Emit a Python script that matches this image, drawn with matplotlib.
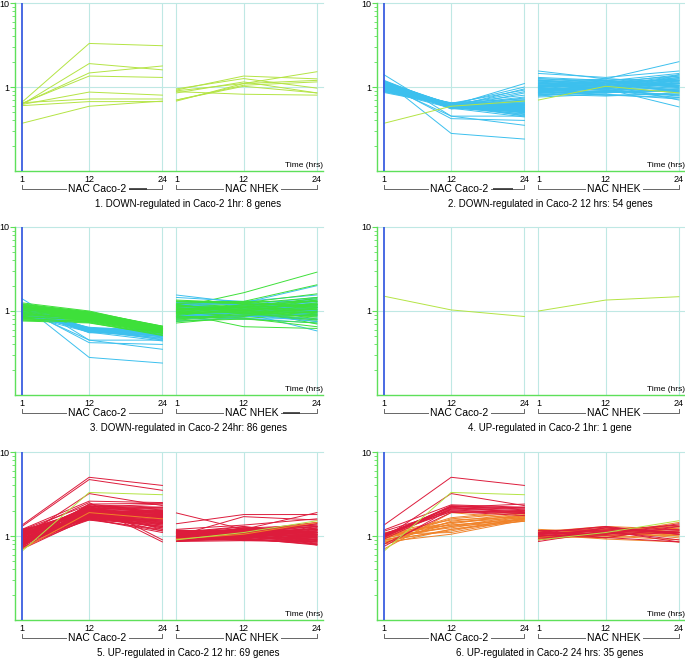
import numpy as np
import matplotlib
matplotlib.use("Agg")
import matplotlib.pyplot as plt
import matplotlib.transforms as mtransforms
from matplotlib.ticker import FixedLocator, NullFormatter

plt.rcParams['font.family'] = ['Liberation Sans', 'DejaVu Sans']

# hours sampled in each cell line
hours = [1, 12, 24]
groups = ["NAC Caco-2", "NAC NHEK"]
nhek_offset = 25.3   # horizontal offset of the NHEK block

# expression ratios: Caco-2 1h,12h,24h | NHEK 1h,12h,24h
g1 = [  # cluster 1 (8 genes)
    [0.66, 3.30, 3.10, 0.90, 1.10, 1.52],
    [0.62, 1.90, 1.60, 0.92, 1.35, 1.25],
    [0.63, 1.47, 1.78, 0.68, 1.10, 1.20],
    [0.64, 1.35, 1.30, 0.88, 0.82, 0.80],
    [0.62, 0.87, 0.80, 0.95, 1.26, 0.97],
    [0.65, 0.72, 0.72, 0.70, 1.05, 1.15],
    [0.60, 0.67, 0.67, 0.85, 1.15, 0.85],
    [0.37, 0.59, 0.68, 0.70, 1.02, 0.85],
]

g2 = [  # cluster 2 (53 own genes)
    [1.40, 0.45, 0.35, 1.55, 1.25, 2.00], [1.20, 0.28, 0.24, 1.45, 1.30, 1.55],
    [1.10, 0.42, 0.40, 1.20, 1.10, 1.40], [1.05, 0.45, 0.45, 0.95, 0.95, 0.58],
    [0.90, 0.60, 1.10, 1.00, 1.05, 1.35], [1.15, 0.62, 1.00, 0.85, 0.90, 1.20],
    [1.00, 0.58, 0.95, 1.10, 1.20, 1.00], [0.95, 0.64, 0.92, 0.90, 1.00, 0.85],
    [1.08, 0.60, 0.88, 1.25, 1.15, 1.10], [1.12, 0.56, 0.85, 0.80, 0.85, 0.95],
    [0.88, 0.63, 0.80, 1.05, 0.95, 1.25], [1.02, 0.61, 0.76, 0.95, 1.10, 0.90],
    [1.18, 0.59, 0.74, 1.15, 1.00, 1.30], [0.92, 0.65, 0.72, 0.88, 0.80, 0.75],
    [1.06, 0.57, 0.70, 1.00, 1.25, 1.15], [0.98, 0.62, 0.70, 0.78, 0.90, 0.80],
    [1.10, 0.60, 0.68, 1.30, 1.20, 1.05], [0.94, 0.58, 0.67, 0.92, 0.85, 1.40],
    [1.04, 0.64, 0.66, 1.08, 1.05, 0.70], [1.14, 0.55, 0.65, 0.84, 1.15, 1.20],
    [0.86, 0.60, 0.64, 1.12, 0.95, 0.95], [1.00, 0.63, 0.63, 0.96, 1.00, 1.10],
    [1.08, 0.59, 0.62, 0.82, 0.78, 0.85], [0.96, 0.61, 0.62, 1.20, 1.10, 1.25],
    [1.12, 0.57, 0.61, 0.98, 0.92, 0.78], [1.02, 0.62, 0.60, 0.86, 1.00, 1.00],
    [0.90, 0.56, 0.60, 1.04, 1.15, 1.35], [1.16, 0.60, 0.59, 0.94, 0.88, 0.92],
    [0.98, 0.64, 0.58, 1.15, 1.25, 1.15], [1.06, 0.58, 0.58, 0.76, 0.82, 0.72],
    [0.94, 0.62, 0.57, 1.02, 1.05, 1.05], [1.10, 0.55, 0.56, 0.90, 0.95, 1.20],
    [1.00, 0.60, 0.56, 1.10, 1.10, 0.88], [1.20, 0.59, 0.55, 0.84, 0.90, 1.10],
    [0.92, 0.63, 0.54, 0.98, 1.20, 0.98], [1.04, 0.57, 0.54, 1.22, 1.05, 1.30],
    [1.08, 0.61, 0.53, 0.88, 0.80, 0.82], [0.96, 0.58, 0.52, 1.06, 0.98, 1.15],
    [1.14, 0.60, 0.52, 0.80, 0.86, 0.90], [1.02, 0.56, 0.51, 1.00, 1.10, 1.25],
    [0.88, 0.62, 0.50, 1.14, 1.00, 1.05], [1.06, 0.59, 0.50, 0.94, 0.92, 0.80],
    [0.98, 0.61, 0.49, 0.86, 1.15, 1.00], [1.12, 0.57, 0.48, 1.18, 1.05, 1.10],
    [0.94, 0.60, 0.47, 0.92, 0.85, 0.95], [1.00, 0.58, 0.46, 1.04, 1.00, 1.20],
    [1.16, 0.62, 0.45, 0.82, 0.90, 0.75], [1.04, 0.56, 0.44, 1.08, 1.12, 1.05],
    [0.90, 0.60, 0.52, 0.96, 0.95, 0.88], [1.10, 0.63, 0.55, 1.26, 1.18, 1.45],
    [1.02, 0.59, 0.57, 0.88, 0.96, 1.12], [0.96, 0.57, 0.50, 1.00, 1.08, 0.92],
    [1.08, 0.61, 0.53, 0.90, 0.88, 1.02],
]

g3 = [  # cluster 3 (53 own genes)
    [1.00, 0.95, 0.62, 1.10, 1.65, 2.90], [0.90, 0.88, 0.60, 1.30, 1.30, 2.05],
    [1.10, 0.92, 0.64, 1.20, 1.25, 1.60], [0.80, 0.85, 0.58, 0.95, 0.65, 0.62],
    [1.20, 0.98, 0.66, 0.85, 1.00, 1.45], [0.95, 0.82, 0.55, 1.05, 1.15, 1.20],
    [1.05, 0.90, 0.63, 0.75, 0.85, 0.95], [0.85, 0.78, 0.56, 1.25, 1.10, 1.30],
    [1.15, 0.94, 0.65, 0.90, 0.95, 0.80], [0.92, 0.80, 0.57, 1.15, 1.20, 1.10],
    [1.02, 0.87, 0.61, 0.80, 0.90, 1.25], [0.78, 0.75, 0.54, 1.00, 1.05, 0.70],
    [1.08, 0.93, 0.62, 1.35, 1.25, 1.15], [0.88, 0.83, 0.59, 0.88, 0.80, 1.00],
    [1.25, 1.00, 0.64, 1.02, 1.15, 1.40], [0.98, 0.86, 0.60, 0.72, 0.85, 0.85],
    [1.12, 0.89, 0.58, 1.18, 1.00, 1.20], [0.82, 0.77, 0.55, 0.96, 1.10, 0.98],
    [1.04, 0.91, 0.63, 1.08, 0.92, 1.10], [0.94, 0.84, 0.57, 0.84, 0.95, 0.75],
    [1.18, 0.96, 0.66, 1.22, 1.30, 1.30], [0.86, 0.79, 0.56, 0.92, 1.05, 1.05],
    [1.00, 0.88, 0.61, 1.12, 1.15, 0.90], [0.76, 0.72, 0.52, 0.78, 0.88, 1.15],
    [1.06, 0.90, 0.62, 1.00, 0.98, 1.35], [0.96, 0.85, 0.59, 1.28, 1.20, 0.95],
    [1.14, 0.92, 0.60, 0.86, 0.82, 0.65], [0.84, 0.80, 0.57, 1.04, 1.10, 1.20],
    [1.02, 0.86, 0.58, 0.94, 1.25, 1.10], [0.90, 0.82, 0.54, 1.16, 1.05, 1.00],
    [1.22, 0.97, 0.65, 0.82, 0.90, 0.88], [0.80, 0.76, 0.53, 1.06, 1.00, 1.25],
    [1.08, 0.89, 0.63, 0.98, 1.12, 1.15], [0.92, 0.81, 0.56, 1.20, 0.95, 0.78],
    [1.10, 0.94, 0.64, 0.88, 1.08, 1.05], [0.98, 0.83, 0.58, 1.02, 1.18, 1.30],
    [0.86, 0.78, 0.55, 1.32, 1.22, 1.45], [1.16, 0.95, 0.62, 0.76, 0.80, 0.72],
    [1.04, 0.87, 0.60, 1.10, 0.92, 0.98], [0.82, 0.74, 0.52, 0.92, 1.02, 1.12],
    [1.12, 0.91, 0.61, 1.00, 1.15, 0.92], [0.94, 0.80, 0.57, 1.14, 1.05, 1.20],
    [1.00, 0.86, 0.59, 0.84, 0.88, 1.00], [0.88, 0.84, 0.56, 1.24, 1.28, 1.10],
    [1.20, 0.93, 0.63, 0.96, 0.98, 0.85], [0.96, 0.79, 0.54, 1.06, 1.10, 1.35],
    [1.06, 0.88, 0.60, 0.80, 0.94, 1.05], [0.78, 0.73, 0.51, 1.18, 1.00, 0.90],
    [1.14, 0.90, 0.62, 0.90, 1.20, 1.18], [0.90, 0.85, 0.58, 1.08, 1.02, 0.95],
    [1.02, 0.92, 0.65, 0.98, 0.86, 1.22], [0.84, 0.81, 0.55, 1.12, 1.12, 0.80],
    [1.10, 0.96, 0.61, 0.94, 0.96, 1.08],
]

g4 = [[1.50, 1.03, 0.86, 1.00, 1.35, 1.48]]

g5 = [  # cluster 5 (67 own genes)
    [1.35, 5.00, 4.00, 1.10, 1.30, 1.05], [1.30, 4.70, 3.50, 1.88, 1.20, 1.90],
    [0.95, 3.20, 2.30, 1.05, 1.15, 0.85], [1.20, 2.60, 2.50, 1.40, 1.80, 1.80],
    [0.80, 2.40, 2.45, 1.00, 1.70, 1.55], [1.10, 2.50, 0.90, 0.95, 1.00, 0.90],
    [0.85, 2.30, 0.85, 1.10, 1.10, 1.20], [1.00, 2.20, 2.40, 0.90, 1.25, 1.10],
    [0.75, 2.10, 2.20, 1.15, 0.95, 1.30], [1.05, 2.00, 1.20, 0.88, 1.05, 0.80],
    [0.90, 1.90, 2.00, 1.20, 1.35, 1.60], [1.15, 1.80, 1.15, 1.00, 0.90, 1.00],
    [0.78, 2.40, 1.90, 1.05, 1.15, 0.95], [0.95, 1.70, 1.80, 0.95, 1.00, 1.15],
    [1.08, 1.60, 1.30, 1.12, 1.20, 0.78], [0.82, 1.55, 1.40, 0.92, 0.92, 1.25],
    [1.02, 2.25, 2.10, 1.08, 1.28, 1.05], [0.88, 2.00, 1.70, 0.86, 0.88, 0.92],
    [1.12, 1.85, 1.60, 1.18, 1.10, 1.40], [0.72, 1.75, 1.50, 0.98, 1.05, 1.10],
    [0.98, 2.10, 1.95, 1.02, 0.96, 0.85], [1.06, 1.95, 1.85, 0.90, 1.15, 1.20],
    [0.86, 1.65, 1.45, 1.14, 1.00, 1.00], [1.18, 2.35, 2.20, 0.94, 1.08, 1.30],
    [0.80, 1.80, 1.35, 1.06, 1.22, 0.88], [0.94, 1.70, 1.25, 0.88, 0.94, 1.05],
    [1.04, 2.05, 1.75, 1.10, 1.12, 0.95], [0.76, 1.90, 1.65, 1.00, 0.98, 1.15],
    [1.10, 1.60, 1.55, 0.92, 1.05, 0.82], [0.92, 2.15, 2.00, 1.16, 1.18, 1.35],
    [1.00, 1.75, 1.40, 0.96, 0.90, 1.00], [0.84, 1.85, 1.70, 1.04, 1.02, 1.10],
    [1.14, 2.00, 1.90, 0.86, 1.14, 0.90], [0.70, 1.65, 1.30, 1.12, 1.00, 1.25],
    [0.96, 2.25, 2.05, 0.98, 1.25, 1.05], [1.06, 1.55, 1.20, 1.02, 0.92, 0.80],
    [0.88, 1.95, 1.60, 0.90, 1.08, 1.20], [1.20, 1.80, 1.80, 1.08, 0.96, 0.95],
    [0.82, 2.10, 1.85, 0.94, 1.16, 1.45], [1.02, 1.70, 1.50, 1.14, 1.04, 1.00],
    [0.74, 1.60, 1.10, 0.88, 0.90, 0.88], [0.98, 2.30, 2.15, 1.06, 1.10, 1.15],
    [1.08, 1.90, 1.45, 0.96, 1.20, 1.30], [0.90, 1.75, 1.75, 1.00, 0.94, 0.78],
    [1.16, 2.05, 1.60, 0.92, 1.06, 1.05], [0.78, 1.85, 1.95, 1.10, 1.14, 1.20],
    [0.94, 1.65, 1.35, 0.86, 0.98, 0.92], [1.04, 2.20, 1.90, 1.04, 1.02, 1.10],
    [0.86, 1.95, 1.70, 0.98, 1.24, 1.35], [1.12, 1.70, 1.55, 1.08, 0.90, 0.85],
    [0.72, 2.00, 1.80, 0.90, 1.08, 1.00], [1.00, 1.80, 1.25, 1.12, 1.00, 1.15],
    [0.92, 2.15, 1.65, 0.94, 1.12, 0.95], [1.10, 1.60, 1.45, 1.02, 0.96, 1.25],
    [0.80, 1.90, 2.00, 1.06, 1.18, 1.10], [0.98, 1.75, 1.60, 0.88, 0.94, 0.80],
    [1.06, 2.05, 1.85, 1.00, 1.04, 1.40], [0.84, 1.65, 1.50, 1.16, 1.10, 1.05],
    [1.18, 1.85, 1.40, 0.92, 1.00, 0.90], [0.76, 2.25, 1.95, 1.04, 0.92, 1.20],
    [0.96, 1.70, 1.30, 0.96, 1.16, 1.00], [1.02, 1.95, 1.75, 1.10, 1.06, 1.15],
    [0.88, 1.80, 1.55, 0.90, 0.98, 0.95], [1.14, 2.10, 1.70, 1.08, 1.12, 1.30],
    [0.82, 1.60, 1.15, 0.98, 0.88, 0.85], [1.04, 2.00, 1.85, 1.02, 1.00, 1.05],
    [0.90, 1.75, 1.65, 0.94, 1.14, 1.10],
]

g6 = [  # cluster 6 (18 own genes)
    [0.70, 1.90, 1.60, 0.92, 1.05, 1.45], [0.85, 1.05, 1.55, 1.00, 1.10, 1.20],
    [1.05, 1.10, 1.60, 1.10, 0.95, 1.05], [0.90, 1.15, 1.65, 0.95, 1.20, 1.30],
    [0.80, 1.20, 1.50, 1.15, 1.00, 0.90], [1.00, 1.25, 1.70, 1.05, 1.25, 1.10],
    [0.95, 1.30, 1.75, 0.90, 1.05, 1.15], [1.10, 1.35, 1.60, 1.20, 1.10, 1.00],
    [0.88, 1.40, 1.80, 1.00, 0.95, 1.25], [0.98, 1.45, 1.65, 1.08, 1.15, 0.95],
    [0.82, 1.50, 1.85, 0.96, 1.02, 1.10], [1.08, 1.55, 1.70, 1.12, 1.30, 1.20],
    [0.92, 1.60, 1.90, 0.94, 1.08, 1.35], [1.02, 1.35, 1.55, 1.04, 0.92, 0.85],
    [0.86, 1.20, 1.60, 1.16, 1.18, 1.05], [0.96, 1.65, 2.00, 0.98, 1.00, 1.15],
    [1.04, 1.45, 1.75, 1.06, 1.22, 1.00], [0.90, 1.30, 1.50, 1.00, 1.06, 1.25],
]

# genes shared between panels (row indices)
p3_cyan = [0, 1, 2, 3] + list(range(24, 53))
p6_red = [0, 2, 7, 8, 16, 20, 21, 23, 29, 32, 34, 41, 47, 54, 56, 61]

titles = [
    "1. DOWN-regulated in Caco-2 1hr: 8 genes",
    "2. DOWN-regulated in Caco-2 12 hrs: 54 genes",
    "3. DOWN-regulated in Caco-2 24hr: 86 genes",
    "4. UP-regulated in Caco-2 1hr: 1 gene",
    "5. UP-regulated in Caco-2 12 hr: 69 genes",
    "6. UP-regulated in Caco-2 24 hrs: 35 genes",
]

LIME, CYAN, GREEN = "#b4e444", "#3cc0ee", "#3ee03a"
RED, ORANGE = "#dd1c3c", "#f08228"


def pick(rows, idx, color):
    return [(rows[i], color) for i in idx]


def whole(rows, color):
    return [(v, color) for v in rows]


def mix(a, b):
    # interleave two sets of lines so neither colour sits fully on top
    out = []
    for i in range(max(len(a), len(b))):
        out += a[i:i + 1] + b[i:i + 1]
    return out


panels = [
    whole(g1, LIME),
    whole(g2, CYAN) + pick(g1, [7], LIME),
    mix(pick(g2, p3_cyan, CYAN), whole(g3, GREEN)),
    whole(g4, LIME),
    whole(g5, RED) + pick(g6, [0], ORANGE) + pick(g1, [0], LIME),
    whole(g6, ORANGE) + pick(g5, p6_red, RED) + pick(g1, [0], LIME),
]
# thicker piece of the bracket line seen in some panels (x start, x end)
thick_bits = [(18.6, 21.5), (18.9, 22.2), (43.8, 46.5), None, None, None]
# gaps left in the bracket lines for the labels
label_x = [13.3, 38.7]
label_gap = [(8.2, 18.5), (34.0, 43.4)]

W, H = 685, 658
fig = plt.figure(figsize=(W / 100, H / 100), dpi=100)

xs_c = np.array(hours, float)
xs_n = xs_c + nhek_offset
xline = np.concatenate([xs_c, [np.nan], xs_n])
xmin, xmax = -0.15, 50.3

col_left = [15, 377]
row_top = [3, 227, 452]
aw, ah = 308, 168

for k in range(6):
    r, c = divmod(k, 2)
    ax = fig.add_axes([col_left[c] / W, 1 - (row_top[r] + ah) / H, aw / W, ah / H])
    ax.set_yscale("log")
    ax.set_ylim(0.1, 10)
    ax.set_xlim(xmin, xmax)

    grid_c = "#bfe8e4"
    for xv in [12, 24, xs_n[0], xs_n[1], xs_n[2]]:
        ax.axvline(xv, color=grid_c, lw=0.8, zorder=1)
    for yv in [1, 10]:
        ax.axhline(yv, color=grid_c, lw=0.8, zorder=1, clip_on=False)

    for vals, color in panels[k]:
        y = np.concatenate([vals[:3], [np.nan], vals[3:]])
        ax.plot(xline, y, color=color, lw=0.7, zorder=2)

    ax.axvline(1, color="#3b5ee0", lw=1.3, zorder=3)

    for s in ["top", "right"]:
        ax.spines[s].set_visible(False)
    for s in ["left", "bottom"]:
        ax.spines[s].set_color("#5ee05a")
        ax.spines[s].set_linewidth(1.0)

    ax.yaxis.set_major_locator(FixedLocator([1, 10]))
    ax.set_yticklabels(["1", "10"])
    ax.yaxis.set_minor_locator(FixedLocator(
        [m * d for d in (0.1, 1) for m in range(2, 10)]))
    ax.yaxis.set_minor_formatter(NullFormatter())
    ax.tick_params(axis="y", which="major", length=3.5, width=0.8, color="#5ee05a",
                   labelsize=6.5, pad=0.5)
    ax.tick_params(axis="y", which="minor", length=2.5, width=0.6, color="#5ee05a")

    ax.set_xticks(list(xs_c) + list(xs_n))
    ax.set_xticklabels(["1", "12", "24"] * 2)
    ax.tick_params(axis="x", length=0, labelsize=6.5, pad=3)

    ax.text(1, 0.035, "Time (hrs)", transform=ax.transAxes, ha="right",
            va="center", fontsize=6)

    tr = mtransforms.blended_transform_factory(ax.transData, ax.transAxes)
    yb, yt = -0.105, -0.082
    for (x0, x1), label, lx, (ga, gb) in zip([(1, 24), (xs_n[0], xs_n[2])],
                                             groups, label_x, label_gap):
        ax.plot([x0, x0, ga], [yt, yb, yb], color="#666666", lw=0.7,
                transform=tr, clip_on=False)
        ax.plot([gb, x1, x1], [yb, yb, yt], color="#666666", lw=0.7,
                transform=tr, clip_on=False)
        ax.text(lx, yb, label, transform=tr, ha="center", va="center",
                fontsize=7.5)
    if thick_bits[k]:
        ax.plot(thick_bits[k], [yb, yb], color="#333333", lw=1.2,
                transform=tr, clip_on=False, solid_capstyle="butt")

    ax.text(28.2, -0.198, titles[k], transform=tr, ha="center", va="center",
            fontsize=7.0)

fig.savefig("out.png", dpi=100)
